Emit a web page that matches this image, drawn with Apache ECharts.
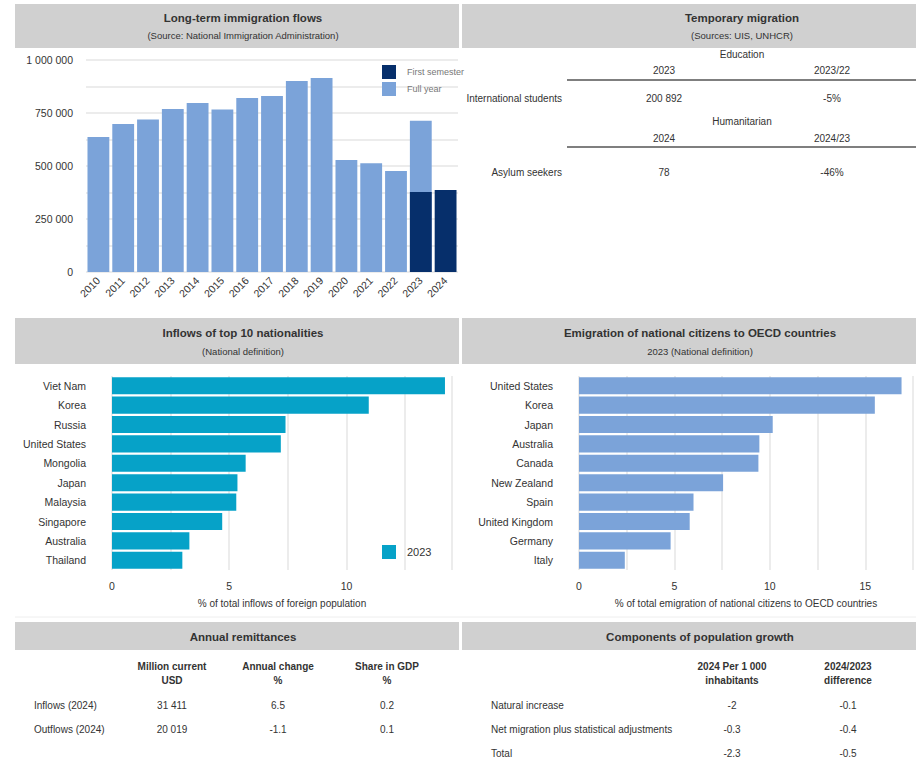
<!DOCTYPE html>
<html>
<head>
<meta charset="utf-8">
<script src="https://cdn.jsdelivr.net/npm/echarts@6/dist/echarts.min.js"></script>
<style>
  html, body { margin: 0; padding: 0; background: #fff; }
  #chart { width: 916px; height: 764px; }
</style>
</head>
<body>
<div id="chart"></div>
<script>
const FONT = '"Liberation Sans", Arial, sans-serif'
const TEXT = '#333'
const GRID = '#e6e6e6'
const LIGHT_BLUE = '#7ba3d9'
const NAVY = '#062f6b'
const TEAL = '#06a2c8'

// Long-term immigration flows
const years = ['2010', '2011', '2012', '2013', '2014', '2015', '2016', '2017', '2018', '2019', '2020', '2021', '2022', '2023', '2024']
const fullYear = [637000, 698000, 719000, 769000, 797000, 767000, 821000, 830000, 901000, 915000, 528000, 513000, 476000, 714000, null]
const firstSemester = [null, null, null, null, null, null, null, null, null, null, null, null, null, 377000, 387000]

// Inflows of top 10 nationalities (2023, % of total inflows)
const inflowCountries = ['Viet Nam', 'Korea', 'Russia', 'United States', 'Mongolia', 'Japan', 'Malaysia', 'Singapore', 'Australia', 'Thailand']
const inflowShares = [14.2, 10.95, 7.4, 7.2, 5.7, 5.35, 5.3, 4.7, 3.3, 3.0]

// Emigration of national citizens to OECD countries (2023, %)
const emigCountries = ['United States', 'Korea', 'Japan', 'Australia', 'Canada', 'New Zealand', 'Spain', 'United Kingdom', 'Germany', 'Italy']
const emigShares = [16.9, 15.5, 10.15, 9.45, 9.4, 7.55, 6.0, 5.8, 4.8, 2.4]

// Temporary migration table
const eduCols = ['2023', '2023/22']
const eduRow = ['International students', '200 892', '-5%']
const humCols = ['2024', '2024/23']
const humRow = ['Asylum seekers', '78', '-46%']

// Annual remittances table
const remitCols = ['Million current\nUSD', 'Annual change\n%', 'Share in GDP\n%']
const remitRows = [
  ['Inflows (2024)', '31 411', '6.5', '0.2'],
  ['Outflows (2024)', '20 019', '-1.1', '0.1']
]

// Components of population growth table
const popCols = ['2024 Per 1 000\ninhabitants', '2024/2023\ndifference']
const popRows = [
  ['Natural increase', '-2', '-0.1'],
  ['Net migration plus statistical adjustments', '-0.3', '-0.4'],
  ['Total', '-2.3', '-0.5']
]

const fmt = v => String(v).replace(/\B(?=(\d{3})+(?!\d))/g, ' ')

function label(x, y, text, o = {}) {
  const align = o.align || 'center'
  return {
    type: 'text', x, y, silent: true,
    style: {
      text,
      font: (o.bold ? 'bold ' : '') + (o.size || 10) + 'px ' + FONT,
      fill: o.color || TEXT,
      textAlign: align, align: align,
      textVerticalAlign: 'middle', verticalAlign: 'middle',
      lineHeight: o.lh || 13
    }
  }
}
function band(x, y, w, h) {
  return { type: 'rect', silent: true, z: -1, shape: { x, y, width: w, height: h }, style: { fill: '#d0d0d0' } }
}
function hline(x1, x2, y, color, w) {
  return { type: 'line', silent: true, shape: { x1, y1: y, x2, y2: y }, style: { stroke: color, lineWidth: w } }
}

const graphics = []
// header bands and titles
graphics.push(band(15, 4, 444, 44), band(462, 4, 454, 44))
graphics.push(label(243, 18, 'Long-term immigration flows', { bold: true, size: 11.5 }))
graphics.push(label(243, 35, '(Source: National Immigration Administration)', { size: 9.5 }))
graphics.push(label(742, 18, 'Temporary migration', { bold: true, size: 11.5 }))
graphics.push(label(742, 35, '(Sources: UIS, UNHCR)', { size: 9.5 }))

graphics.push(band(15, 318, 444, 46), band(462, 318, 454, 46))
graphics.push(label(243, 333, 'Inflows of top 10 nationalities', { bold: true, size: 11.5 }))
graphics.push(label(243, 351, '(National definition)', { size: 9.5 }))
graphics.push(label(700, 333, 'Emigration of national citizens to OECD countries', { bold: true, size: 11.5 }))
graphics.push(label(700, 351, '2023 (National definition)', { size: 9.5 }))

graphics.push(band(15, 622, 444, 28), band(462, 622, 454, 28))
graphics.push(label(243, 637, 'Annual remittances', { bold: true, size: 11.5 }))
graphics.push(label(700, 637, 'Components of population growth', { bold: true, size: 11.5 }))

graphics.push(hline(15, 916, 617, '#eeeeee', 1))

// temporary migration table
const tCols = [664, 832]
graphics.push(label(742, 54, 'Education', { size: 10 }))
eduCols.forEach((c, i) => graphics.push(label(tCols[i], 70, c)))
graphics.push(hline(567, 916, 80, '#555', 1.5))
graphics.push(label(562, 98, eduRow[0], { align: 'right' }))
eduRow.slice(1).forEach((c, i) => graphics.push(label(tCols[i], 98, c)))
graphics.push(label(742, 121, 'Humanitarian', { size: 10 }))
humCols.forEach((c, i) => graphics.push(label(tCols[i], 138, c)))
graphics.push(hline(567, 916, 147, '#555', 1.5))
graphics.push(label(562, 172, humRow[0], { align: 'right' }))
humRow.slice(1).forEach((c, i) => graphics.push(label(tCols[i], 172, c)))

// remittances table
const rCols = [172, 278, 387]
remitCols.forEach((c, i) => graphics.push(label(rCols[i], 673, c, { bold: true, lh: 14 })))
remitRows.forEach((r, j) => {
  const y = 705 + j * 24
  graphics.push(label(34, y, r[0], { align: 'left' }))
  r.slice(1).forEach((c, i) => graphics.push(label(rCols[i], y, c)))
})

// population growth table
const pCols = [732, 848]
popCols.forEach((c, i) => graphics.push(label(pCols[i], 673, c, { bold: true, lh: 14 })))
popRows.forEach((r, j) => {
  const y = 705 + j * 24
  graphics.push(label(491, y, r[0], { align: 'left' }))
  r.slice(1).forEach((c, i) => graphics.push(label(pCols[i], y, c)))
})

const axisText = { color: TEXT, fontSize: 10.5, fontFamily: FONT }

const hValueAxis = (gridIndex, max, name) => ({
  type: 'value', gridIndex, min: 0, max, interval: 2.5,
  axisLine: { show: false }, axisTick: { show: false },
  splitLine: { lineStyle: { color: GRID, width: 1.5 } },
  axisLabel: { ...axisText, margin: 10, formatter: v => (v % 5 === 0 ? String(v) : '') },
  name, nameLocation: 'middle', nameGap: 28,
  nameTextStyle: { color: TEXT, fontSize: 10, fontFamily: FONT }
})
const hCategoryAxis = (gridIndex, data) => ({
  type: 'category', gridIndex, data, inverse: true,
  axisLine: { show: false }, axisTick: { show: false },
  axisLabel: { ...axisText, margin: 26 }
})

const chart = echarts.init(document.getElementById('chart'), null, { renderer: 'svg' })

chart.setOption({
  animation: false,
  backgroundColor: '#fff',
  textStyle: { fontFamily: FONT },
  grid: [
    { left: 86, right: 458, top: 60, height: 212 },
    { left: 112, right: 464, top: 376, height: 194 },
    { left: 579, right: 3, top: 376, height: 194 }
  ],
  legend: [
    {
      data: ['First semester', 'Full year'], left: 377, top: 60, orient: 'vertical',
      icon: 'rect', itemWidth: 14, itemHeight: 14, itemGap: 3,
      textStyle: { color: '#777', fontSize: 9, padding: [0, 0, 0, 6] }
    },
    {
      data: ['2023'], left: 377, top: 540, icon: 'rect', itemWidth: 14, itemHeight: 14,
      textStyle: { color: TEXT, fontSize: 11, padding: [0, 0, 0, 6] }
    }
  ],
  xAxis: [
    {
      type: 'category', gridIndex: 0, data: years,
      axisLine: { show: false }, axisTick: { show: false },
      axisLabel: { ...axisText, fontSize: 10.5, rotate: 45, margin: 7, interval: 0 }
    },
    hValueAxis(1, 14.5, '% of total inflows of foreign population'),
    hValueAxis(2, 17.5, '% of total emigration of national citizens to OECD countries')
  ],
  yAxis: [
    {
      type: 'value', gridIndex: 0, min: 0, max: 1000000, interval: 125000,
      axisLine: { show: false }, axisTick: { show: false },
      splitLine: { lineStyle: { color: GRID, width: 1.5 } },
      axisLabel: { ...axisText, margin: 13, formatter: v => (v % 250000 === 0 ? fmt(v) : '') }
    },
    hCategoryAxis(1, inflowCountries),
    hCategoryAxis(2, emigCountries)
  ],
  series: [
    {
      name: 'Full year', type: 'bar', xAxisIndex: 0, yAxisIndex: 0, data: fullYear,
      itemStyle: { color: LIGHT_BLUE }, barCategoryGap: '12%', barGap: '-100%'
    },
    {
      name: 'First semester', type: 'bar', xAxisIndex: 0, yAxisIndex: 0, data: firstSemester,
      itemStyle: { color: NAVY }, barCategoryGap: '12%', barGap: '-100%'
    },
    {
      name: '2023', type: 'bar', xAxisIndex: 1, yAxisIndex: 1, data: inflowShares,
      itemStyle: { color: TEAL }, barCategoryGap: '12%'
    },
    {
      name: 'Emigration 2023', type: 'bar', xAxisIndex: 2, yAxisIndex: 2, data: emigShares,
      itemStyle: { color: LIGHT_BLUE }, barCategoryGap: '12%'
    }
  ],
  graphic: { elements: graphics }
})
</script>
</body>
</html>
